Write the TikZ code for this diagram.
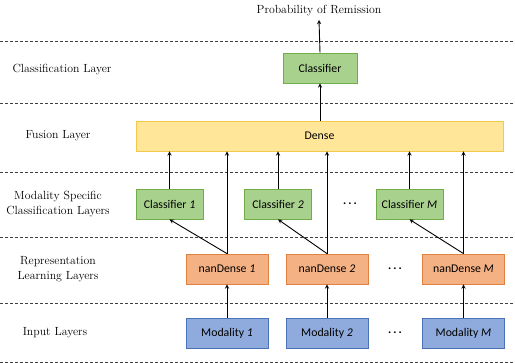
\documentclass[tikz,border=0pt]{standalone}
\usepackage{fontspec}
\newfontfamily\boxfont{Carlito}
\usetikzlibrary{positioning,arrows}
\definecolor{clsfill}{HTML}{A9D18E}
\definecolor{clsline}{HTML}{70AD47}
\definecolor{fusfill}{HTML}{FFE699}
\definecolor{fusline}{HTML}{F2C94C}
\definecolor{repfill}{HTML}{F4B183}
\definecolor{repline}{HTML}{E0813F}
\definecolor{inpfill}{HTML}{8FAADC}
\definecolor{inpline}{HTML}{4A72B8}

\begin{document}
\begin{tikzpicture}[x=1pt, y=-1pt, >=stealth,
    layer/.style={font=\fontsize{11.8}{15}\selectfont, align=center},
    blk/.style={draw, line width=0.8pt, inner sep=0pt, minimum height=30pt,
                font=\boxfont\fontsize{11.8}{14}\selectfont},
    clsbox/.style={blk, fill=clsfill, draw=clsline, minimum width=67pt},
    repbox/.style={blk, fill=repfill, draw=repline, minimum width=82pt},
    inpbox/.style={blk, fill=inpfill, draw=inpline, minimum width=82pt},
    dots/.style={font=\boxfont\bfseries\fontsize{12}{14}\selectfont},
    sep/.style={dash pattern=on 3pt off 2pt, line width=0.5pt, black!75},
    conn/.style={->, line width=0.9pt}]
%
    \useasboundingbox (0,0) rectangle (515,363);
%
    % layer separators
    \foreach \y in {41,103,172,237,303,362}
      \draw[sep] (0,\y) -- (515,\y);
%
    % layer names
    \node[layer] (lCls) at (62,70)  {Classification Layer};
    \node[layer] (lFus) at (58,136) {Fusion Layer};
    \node[layer] (lMod) at (58,204) {Modality Specific\\Classification Layers};
    \node[layer] (lRep) at (58,269) {Representation\\Learning Layers};
    \node[layer] (lInp) at (55,333) {Input Layers};
%
    % top of the network
    \node[layer] (out) at (319,11) {Probability of Remission};
    \node[clsbox, minimum width=74pt] (cls) at (320,68) {Classifier};
    \node[blk, fill=fusfill, draw=fusline, minimum width=367pt] (dense) at (319.5,136) {Dense};
    \draw[conn] (cls.north) -- (out.south);
    \draw[conn] (cls.south |- dense.north) -- (cls.south);
%
    % one column per modality
    \foreach \i/\xc/\xn/\lab in {1/169.5/227/1, 2/278/327/2, 3/409.5/463.5/M} {
      \node[clsbox] (cl\i) at (\xc,204) {Classifier \textit{\lab}};
      \node[repbox] (nd\i) at (\xn,269) {nanDense \textit{\lab}};
      \node[inpbox] (md\i) at (\xn,333) {Modality \textit{\lab}};
      \draw[conn] (md\i.north) -- (nd\i.south);
      \draw[conn] (nd\i.north) -- (cl\i.south);
      \draw[conn] (nd\i.north) -- (nd\i.north |- dense.south);
      \draw[conn] (cl\i.north) -- (cl\i.north |- dense.south);
    }
%
    % dots between columns
    \node[dots] (dCl) at (350,204) {.\,.\,.};
    \node[dots] (dNd) at (395,269) {.\,.\,.};
    \node[dots] (dMd) at (395,333) {.\,.\,.};
\end{tikzpicture}
\end{document}
